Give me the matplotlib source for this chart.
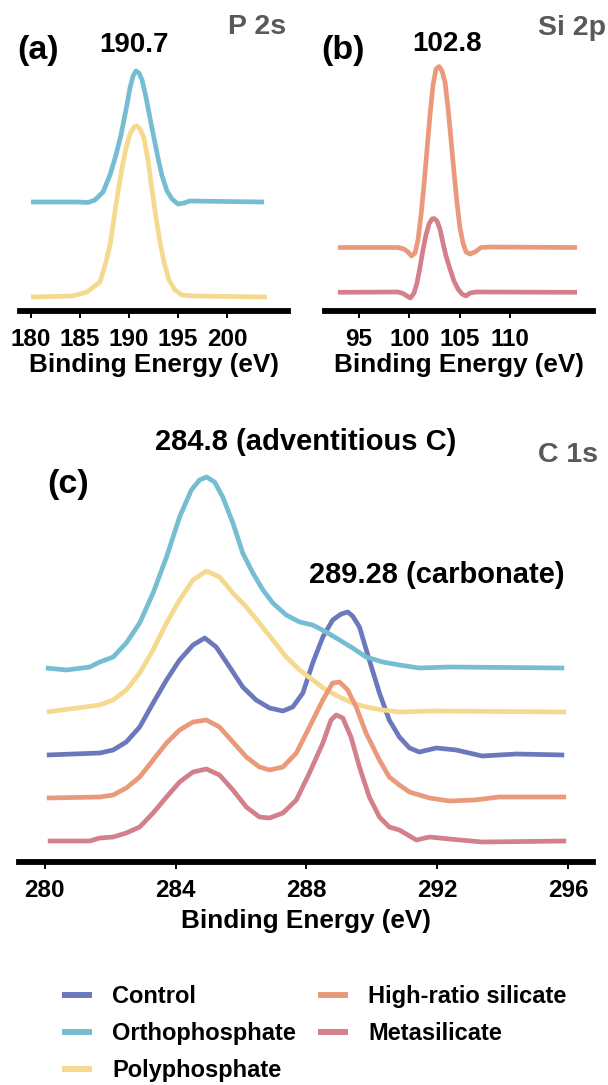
import matplotlib
matplotlib.use("Agg")
import matplotlib.pyplot as plt

# ---- data (binding energy in eV, intensity in a.u., stacked with offsets) ----
# (a) P 2s
p2s_ortho_x = [180.0, 184.69, 185.82, 186.53, 187.35, 188.06, 188.67, 189.18, 189.69, 190.10, 190.41, 190.71, 191.02,
               191.33, 191.73, 192.14, 192.55, 192.96, 193.37, 193.88, 194.39, 195.0, 195.61, 196.22, 203.78]
p2s_ortho_y = [109, 109, 108.5, 111, 119, 136, 156, 176, 201, 223, 235, 240, 238,
               231, 214, 193, 173, 153, 135, 120, 112, 107, 108, 110, 109]
p2s_poly_x = [180.0, 184.29, 185.71, 187.04, 187.65, 188.06, 188.47, 188.88, 189.29, 189.69, 190.10, 190.51, 190.82,
              191.12, 191.53, 191.94, 192.35, 192.76, 193.16, 193.57, 194.08, 194.69, 195.41, 196.73, 204.08]
p2s_poly_y = [14, 15, 19, 29, 49, 66, 93, 119, 143, 163, 177, 184, 185,
              182, 173, 151, 121, 93, 69, 49, 31, 21, 16, 15, 14]

# (b) Si 2p
si2p_high_x = [92.91, 98.87, 99.47, 99.87, 100.21, 100.56, 100.86, 101.16, 101.45, 101.75, 102.05, 102.35, 102.65, 102.95,
               103.24, 103.54, 103.84, 104.14, 104.43, 104.73, 105.03, 105.33, 105.63, 106.02, 106.52, 107.12, 108.01, 116.65]
si2p_high_y = [63.5, 63.5, 62, 59, 55, 58, 71, 96, 126, 161, 196, 226, 242, 244.5,
               240, 229, 203, 171, 139, 108, 83, 68, 59, 57, 59, 63.5, 64, 63.5]
si2p_meta_x = [92.91, 98.87, 99.37, 99.77, 100.11, 100.46, 100.76, 101.06, 101.35, 101.65, 101.95, 102.25, 102.45,
               102.74, 103.04, 103.34, 103.64, 104.04, 104.43, 104.83, 105.23, 105.63, 106.02, 106.62, 116.65]
si2p_meta_y = [18.7, 19, 17.5, 15, 13, 18, 28, 44, 61, 76, 87, 92, 92.5,
               90, 82, 68, 55, 42, 30, 22, 17, 15, 18, 19, 18.7]

# (c) C 1s
c1s_ortho_x = [280.03, 280.67, 281.37, 281.68, 282.09, 282.49, 282.90, 283.31, 283.72, 284.12, 284.48, 284.73, 284.94,
               285.19, 285.44, 285.75, 286.05, 286.36, 286.67, 286.97, 287.38, 287.79, 288.19, 288.60, 289.01, 289.41,
               289.82, 290.33, 290.84, 291.45, 292.37, 295.88]
c1s_ortho_y = [194, 192, 195, 200, 205, 219, 239, 269, 305, 345, 372, 382, 385,
               380, 365, 339, 309, 289, 272, 259, 247, 240, 237, 230, 222, 214,
               205, 200, 197, 194, 195, 194]
c1s_poly_x = [280.06, 281.68, 282.09, 282.49, 282.90, 283.31, 283.72, 284.12, 284.53, 284.94, 285.34, 285.75, 286.16,
              286.56, 286.97, 287.38, 287.79, 288.19, 288.60, 289.01, 289.41, 289.82, 290.33, 290.84, 291.85, 295.94]
c1s_poly_y = [150, 157, 162, 172, 189, 212, 239, 262, 282, 291, 285, 269, 255,
              239, 222, 205, 192, 182, 172, 165, 159, 155, 152, 150, 151, 150]
c1s_control_x = [280.06, 281.68, 282.09, 282.49, 282.90, 283.31, 283.72, 284.12, 284.53, 284.89, 285.24, 285.65,
                 286.05, 286.46, 286.87, 287.28, 287.58, 287.89, 288.19, 288.50, 288.80, 289.06, 289.26, 289.41,
                 289.62, 289.92, 290.23, 290.53, 290.84, 291.15, 291.45, 291.97, 292.58, 293.37, 294.41, 295.88]
c1s_control_y = [107, 109, 112, 120, 135, 159, 182, 202, 217, 224, 215, 195,
                 175, 162, 154, 151, 155, 169, 199, 225, 242, 248, 250, 246,
                 235, 202, 169, 142, 125, 114, 110, 114, 112, 106, 108, 107]
c1s_high_x = [280.06, 281.68, 282.09, 282.49, 282.90, 283.31, 283.72, 284.12, 284.53, 284.94, 285.34, 285.75,
              286.16, 286.56, 286.87, 287.28, 287.69, 288.09, 288.50, 288.80, 289.01, 289.26, 289.52, 289.82,
              290.23, 290.53, 290.84, 291.15, 291.76, 292.37, 293.13, 293.89, 295.94]
c1s_high_y = [64, 65, 67, 74, 85, 102, 119, 132, 140, 142, 135, 120,
              105, 95, 92, 95, 109, 135, 162, 179, 180, 172, 155, 129,
              102, 85, 77, 70, 64, 61, 62, 65, 65]
c1s_meta_x = [280.09, 281.37, 281.68, 282.09, 282.49, 282.90, 283.31, 283.72, 284.12, 284.53, 284.94, 285.34,
              285.75, 286.16, 286.56, 286.87, 287.28, 287.69, 288.09, 288.50, 288.75, 288.91, 289.11, 289.36,
              289.62, 289.92, 290.23, 290.53, 290.84, 291.36, 291.76, 292.37, 293.37, 295.94]
c1s_meta_y = [21, 21, 24, 25, 29, 35, 49, 65, 80, 90, 93, 87,
              72, 55, 45, 44, 49, 62, 89, 119, 142, 147, 144, 125,
              95, 65, 45, 35, 32, 22, 25, 23, 20, 21]

samples = ["Control", "Orthophosphate", "Polyphosphate", "High-ratio silicate", "Metasilicate"]
colors = {"Control": "#6b78bc", "Orthophosphate": "#76bdd4", "Polyphosphate": "#f4d98e",
          "High-ratio silicate": "#ea9a7b", "Metasilicate": "#d3808a"}

W, H = 608, 1085
plt.rcParams["font.family"] = ["Liberation Sans", "DejaVu Sans"]
plt.rcParams["font.weight"] = "bold"

fig = plt.figure(figsize=(W / 100, H / 100), dpi=100)


def make_axes(left, right, spine_y, top, xlim, ticks, labelpad):
    ax = fig.add_axes([left / W, 1 - spine_y / H, (right - left) / W, (spine_y - top) / H])
    ax.set_xlim(*xlim)
    ax.set_ylim(0, spine_y - top)
    for s in ["left", "top", "right"]:
        ax.spines[s].set_visible(False)
    ax.spines["bottom"].set_linewidth(4.2)
    ax.set_yticks([])
    ax.set_xticks(ticks)
    ax.tick_params(axis="x", length=4.8, width=1.4, pad=7.5, labelsize=17.5)
    ax.set_xlabel("Binding Energy (eV)", fontsize=18.8, fontweight="bold", labelpad=labelpad)
    ax.patch.set_alpha(0)
    return ax


lw = 3.4
kw = dict(lw=lw, solid_joinstyle="round", solid_capstyle="butt")

ax_a = make_axes(20, 288, 311, 60, (178.88, 206.22), [180, 185, 190, 195, 200], 1.5)
ax_a.plot(p2s_ortho_x, p2s_ortho_y, color=colors["Orthophosphate"], **kw)
ax_a.plot(p2s_poly_x, p2s_poly_y, color=colors["Polyphosphate"], **kw)

ax_b = make_axes(325, 593, 311, 60, (91.62, 118.24), [95, 100, 105, 110], 1.5)
ax_b.plot(si2p_high_x, si2p_high_y, color=colors["High-ratio silicate"], **kw)
ax_b.plot(si2p_meta_x, si2p_meta_y, color=colors["Metasilicate"], **kw)

ax_c = make_axes(19, 593, 862, 460, (279.21, 296.76), [280, 284, 288, 292, 296], 5)
c1s = {"Control": (c1s_control_x, c1s_control_y),
       "Orthophosphate": (c1s_ortho_x, c1s_ortho_y),
       "Polyphosphate": (c1s_poly_x, c1s_poly_y),
       "High-ratio silicate": (c1s_high_x, c1s_high_y),
       "Metasilicate": (c1s_meta_x, c1s_meta_y)}
handles = []
for name in samples:
    x, y = c1s[name]
    (ln,) = ax_c.plot(x, y, color=colors[name], label=name, **kw)
    handles.append(ln)


def ftext(px, py, s, **kw):
    fig.text(px / W, 1 - py / H, s, **kw)


# panel letters and peak labels
ftext(17, 50, "(a)", fontsize=24.5, va="center")
ftext(321, 50, "(b)", fontsize=24.5, va="center")
ftext(47, 485, "(c)", fontsize=24.5, va="center")
ftext(134, 45, "190.7", fontsize=20, ha="center", va="center")
ftext(447, 44, "102.8", fontsize=20, ha="center", va="center")
ftext(306, 442, "284.8 (adventitious C)", fontsize=21, ha="center", va="center")
ftext(437, 575, "289.28 (carbonate)", fontsize=21, ha="center", va="center")

# core level labels
grey = "#595959"
ftext(286, 27, "P 2s", fontsize=20.5, color=grey, ha="right", va="center")
ftext(606, 28, "Si 2p", fontsize=20.5, color=grey, ha="right", va="center")
ftext(598, 455, "C 1s", fontsize=20.5, color=grey, ha="right", va="center")

leg = fig.legend(handles=handles, loc="upper left", bbox_to_anchor=(62 / W, 1 - 985 / H),
                 ncol=2, frameon=False, fontsize=17, borderpad=0, borderaxespad=0,
                 handlelength=1.27, handletextpad=0.85, columnspacing=0.95, labelspacing=0.6)
for line in leg.get_lines():
    line.set_linewidth(4.3)

fig.savefig("out.png", dpi=100)
